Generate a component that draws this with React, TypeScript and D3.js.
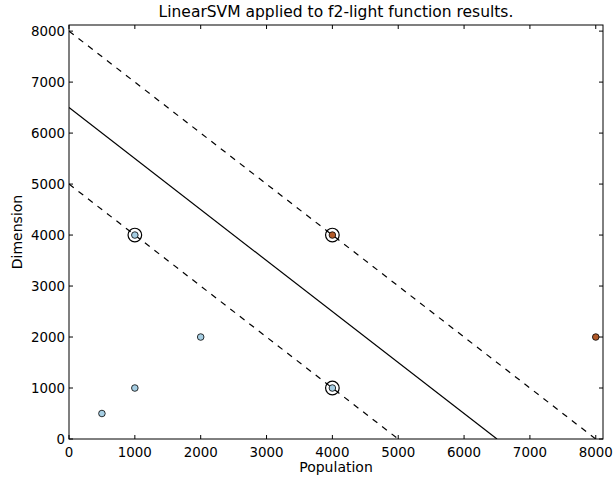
import React from 'react';
import * as d3 from 'd3';

const pointX = [500, 1000, 2000, 1000, 4000, 4000, 8000];
const pointY = [500, 1000, 2000, 4000, 1000, 4000, 2000];
const pointClass = [0, 0, 0, 0, 0, 1, 1];
const supportX = [1000, 4000, 4000];
const supportY = [4000, 1000, 4000];
// lines: [x0, y0, x1, y1] endpoints on the axes
const boundary = [0, 6500, 6500, 0];
const marginUpper = [0, 8000, 8000, 0];
const marginLower = [0, 5000, 5000, 0];
const ticks = [0, 1000, 2000, 3000, 4000, 5000, 6000, 7000, 8000];
const classColors = ['#a6cee3', '#b15928'];

export default function App() {
  const W = 615, H = 479;
  const m = { left: 69, right: 12, top: 25, bottom: 40 };
  const x = d3.scaleLinear().domain([0, 8110]).range([m.left, W - m.right]);
  const y = d3.scaleLinear().domain([0, 8120]).range([H - m.bottom, m.top]);
  const font = 'DejaVu Sans, sans-serif';
  const line = (l: number[], dash?: string) => (
    <line x1={x(l[0])} y1={y(l[1])} x2={x(l[2])} y2={y(l[3])}
      stroke="#000" strokeWidth={1.2} strokeDasharray={dash} />
  );
  const x0 = x(0), x1 = x(8110), yb = y(0), yt = y(8120);

  return (
    <svg width={W} height={H} style={{ position: 'absolute', left: 0, top: 0, background: '#fff' }}>
      <defs>
        <clipPath id="plot"><rect x={x0} y={yt} width={x1 - x0} height={yb - yt} /></clipPath>
      </defs>
      <text x={(x0 + x1) / 2} y={17} textAnchor="middle" fontFamily={font} fontSize={15.5}>
        LinearSVM applied to f2-light function results.
      </text>
      <g clipPath="url(#plot)">
        {line(boundary)}
        {line(marginUpper, '6,6')}
        {line(marginLower, '6,6')}
        {pointX.map((px, i) => (
          <circle key={i} cx={x(px)} cy={y(pointY[i])} r={3.3}
            fill={classColors[pointClass[i]]} stroke="#000" strokeWidth={0.8} />
        ))}
        {supportX.map((sx, i) => (
          <circle key={'s' + i} cx={x(sx)} cy={y(supportY[i])} r={6.8}
            fill="none" stroke="#000" strokeWidth={1.2} />
        ))}
      </g>
      <rect x={x0} y={yt} width={x1 - x0} height={yb - yt} fill="none" stroke="#000" strokeWidth={1} />
      {ticks.map(t => (
        <g key={'x' + t}>
          <line x1={x(t)} x2={x(t)} y1={yb} y2={yb - 4} stroke="#000" />
          <line x1={x(t)} x2={x(t)} y1={yt} y2={yt + 4} stroke="#000" />
          <text x={x(t)} y={yb + 18} textAnchor="middle" fontFamily={font} fontSize={13.4}>{t}</text>
        </g>
      ))}
      {ticks.map(t => (
        <g key={'y' + t}>
          <line x1={x0} x2={x0 + 4} y1={y(t)} y2={y(t)} stroke="#000" />
          <line x1={x1} x2={x1 - 4} y1={y(t)} y2={y(t)} stroke="#000" />
          <text x={x0 - 4} y={y(t) + 5} textAnchor="end" fontFamily={font} fontSize={13.4}>{t}</text>
        </g>
      ))}
      <text x={(x0 + x1) / 2} y={472} textAnchor="middle" fontFamily={font} fontSize={14}>Population</text>
      <text transform={`translate(22,${(yt + yb) / 2}) rotate(-90)`} textAnchor="middle" fontFamily={font} fontSize={14}>Dimension</text>
    </svg>
  );
}
